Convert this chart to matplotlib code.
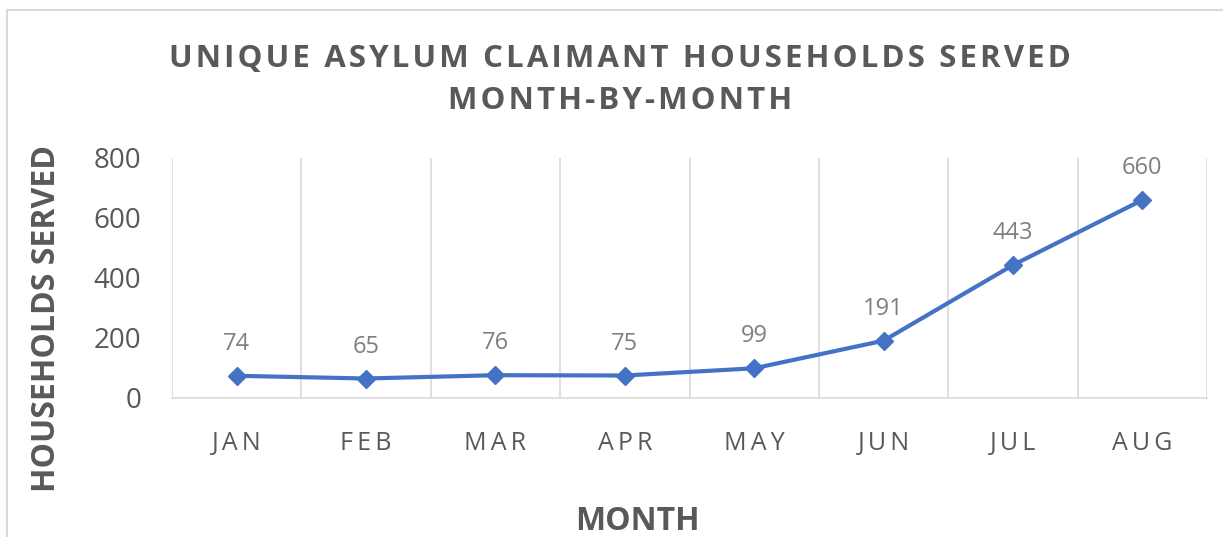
import matplotlib
matplotlib.use("Agg")
import matplotlib.pyplot as plt
from matplotlib.lines import Line2D

months = ["JAN", "FEB", "MAR", "APR", "MAY", "JUN", "JUL", "AUG"]
households = [74, 65, 76, 75, 99, 191, 443, 660]
yticks = [0, 200, 400, 600, 800]

title = "UNIQUE ASYLUM CLAIMANT HOUSEHOLDS SERVED\nMONTH-BY-MONTH"

plt.rcParams['font.family'] = ['Open Sans', 'DejaVu Sans']

def spaced(s, sep="\u200a"):
  # fake letter spacing like the Excel chart
  return "\n".join(sep.join(line) for line in s.split("\n"))

grey = "#595959"
grid = "#D9D9D9"
blue = "#4472C4"

W, H = 1223, 537
fig = plt.figure(figsize=(W / 100, H / 100), dpi=100)
ax = fig.add_axes([172 / W, 1 - 398 / H, (1207 - 172) / W, (398 - 158) / H])

x = list(range(len(months)))
ax.plot(x, households, color=blue, linewidth=3, marker="D", markersize=9, zorder=3)
for xi, v in zip(x, households):
  ax.annotate(str(v), (xi, v), xytext=(0, 23), textcoords="offset points",
              ha="center", va="center", fontsize=17, color="#7F7F7F")

ax.set_xlim(-0.5, len(months) - 0.5)
ax.set_ylim(0, 800)
ax.set_yticks(yticks)
ax.set_yticklabels([str(t) for t in yticks], fontsize=20, color=grey)
ax.set_xticks(x)
ax.set_xticklabels([spaced(m, "\u2009") for m in months], fontsize=18, color=grey)
ax.tick_params(axis="both", length=0)
ax.tick_params(axis="x", pad=24)
ax.tick_params(axis="y", pad=22)

for b in [i - 0.5 for i in range(len(months) + 1)]:
  ax.axvline(b, color=grid, linewidth=1.2, zorder=1)
for s in ["top", "right", "left"]:
  ax.spines[s].set_visible(False)
ax.spines["bottom"].set_color(grid)
ax.spines["bottom"].set_linewidth(1.2)

fig.text(47 / W, 1 - 318 / H, "HOUSEHOLDS SERVED", rotation=90, ha="center", va="center",
         fontsize=23, fontweight="bold", color=grey)
fig.text(637 / W, 1 - 521 / H, "MONTH", ha="center", va="center",
         fontsize=23, fontweight="bold", color=grey)

fig.text(620 / W, 1 - 80 / H, spaced(title, "\u200a"), ha="center", va="center", fontsize=22.5,
         fontweight="bold", color=grey, linespacing=1.5)

# chart frame (cropped at right and bottom)
fig.add_artist(Line2D([7 / W, 1.0], [1 - 10 / H, 1 - 10 / H], color=grid, linewidth=1.5, transform=fig.transFigure))
fig.add_artist(Line2D([7 / W, 7 / W], [0.0, 1 - 10 / H], color=grid, linewidth=1.5, transform=fig.transFigure))

fig.savefig("out.png", dpi=100)
